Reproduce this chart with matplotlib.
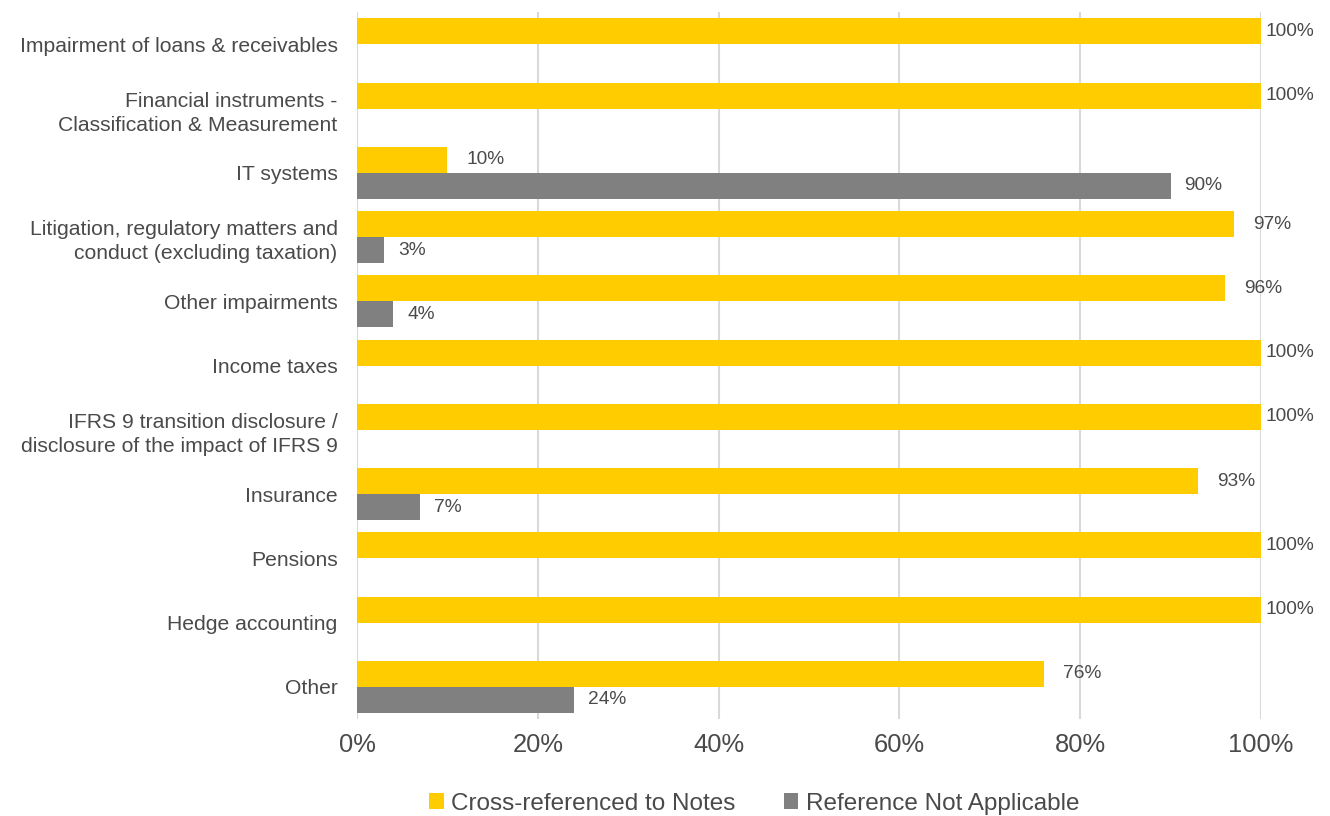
import matplotlib.pyplot as plt
import numpy as np

plt.rcParams['font.family'] = ['Liberation Sans', 'DejaVu Sans']

categories = [
    'Impairment of loans & receivables',
    'Financial instruments -\nClassification & Measurement',
    'IT systems',
    'Litigation, regulatory matters and\nconduct (excluding taxation)',
    'Other impairments',
    'Income taxes',
    'IFRS 9 transition disclosure /\ndisclosure of the impact of IFRS 9',
    'Insurance',
    'Pensions',
    'Hedge accounting',
    'Other',
]
cross_referenced = [100, 100, 10, 97, 96, 100, 100, 93, 100, 100, 76]
not_applicable = [0, 0, 90, 3, 4, 0, 0, 7, 0, 0, 24]

YELLOW = '#FFCC00'
GREY = '#808080'
TEXT = '#4A4A4A'

fig = plt.figure(figsize=(13.3, 8.16), dpi=100)
ax = fig.add_axes([0.2684, 0.119, 0.6797, 0.866])

y = np.arange(len(categories))
h = 0.404
ax.barh(y - h / 2, cross_referenced, height=h, color=YELLOW, zorder=3,
        label='Cross-referenced to Notes')
ax.barh(y + h / 2, not_applicable, height=h, color=GREY, zorder=3,
        label='Reference Not Applicable')

# value labels, skipping empty bars
for yi, v in zip(y, cross_referenced):
    if v > 0:
        off = 3 if v == 100 else 14
        ax.annotate(f'{v}%', (v, yi - h / 2), xytext=(off, 0),
                    textcoords='offset points', va='center', ha='left',
                    fontsize=13.8, color=TEXT)
for yi, v in zip(y, not_applicable):
    if v > 0:
        ax.annotate(f'{v}%', (v, yi + h / 2), xytext=(10, 0),
                    textcoords='offset points', va='center', ha='left',
                    fontsize=13.8, color=TEXT)

ax.set_xlim(0, 100)
ax.set_ylim(len(categories) - 0.5, -0.5)
ax.set_xticks(np.arange(0, 101, 20))
ax.set_xticklabels([f'{t}%' for t in range(0, 101, 20)], fontsize=18.4, color=TEXT)
ax.set_yticks(y)
ax.set_yticklabels(categories, fontsize=15.2, color=TEXT, linespacing=1.35)
ax.tick_params(axis='both', length=0)
ax.tick_params(axis='y', pad=14)
ax.tick_params(axis='x', pad=10)

ax.grid(axis='x', color='#D9D9D9', linewidth=1.5, zorder=0)
for s in ax.spines.values():
    s.set_visible(False)

fig.legend(loc='lower center', bbox_to_anchor=(0.567, -0.025), ncol=2,
           frameon=False, fontsize=17.5, handlelength=0.6, handleheight=0.6,
           handletextpad=0.3, columnspacing=2.0, labelcolor=TEXT)

fig.savefig('out.png', dpi=100)
